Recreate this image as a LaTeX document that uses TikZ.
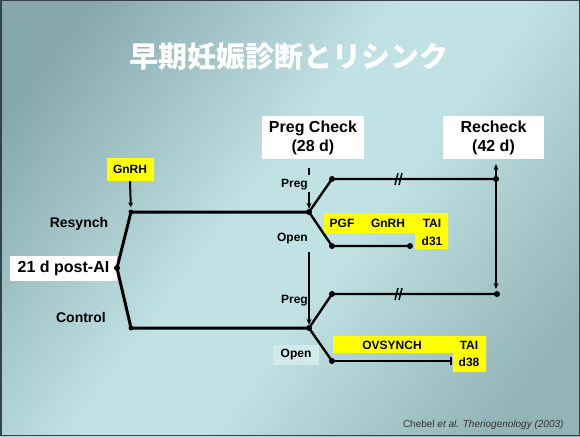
\documentclass[tikz,border=0pt]{standalone}
\usepackage{fontspec}
\setmainfont{Liberation Sans}
\newfontfamily\cjk{Noto Sans CJK JP}
\usetikzlibrary{arrows.meta,positioning,shadings}

\definecolor{bgdark}{HTML}{86A7AB}
\definecolor{bglight}{HTML}{C0E2E5}
\definecolor{bgdarktwo}{HTML}{93B4B7}
\definecolor{hiyellow}{HTML}{FFFF00}
\definecolor{openbg}{HTML}{D2E9EA}
\definecolor{framecol}{HTML}{33434A}

\pgfdeclarehorizontalshading{slidebg}{100bp}{color(0bp)=(bgdark); color(22bp)=(bgdark); color(46bp)=(bglight); color(56bp)=(bglight); color(78bp)=(bgdarktwo); color(100bp)=(bgdarktwo)}

\begin{document}
\begin{tikzpicture}[
		x=1pt, y=-1pt,
		wbox/.style={fill=white, align=center, inner sep=0pt, font=\fontsize{16}{19}\selectfont\bfseries},
		ybox/.style={fill=hiyellow, inner sep=0pt, minimum width=47pt, minimum height=23pt, font=\fontsize{12}{14}\selectfont\bfseries},
		lab/.style={font=\fontsize{14}{16}\selectfont\bfseries},
		smalllab/.style={font=\fontsize{12}{14}\selectfont\bfseries, inner sep=1pt},
		ytext/.style={font=\fontsize{12}{14}\selectfont\bfseries, inner sep=0pt},
		dot/.style={circle, fill=black, inner sep=0pt, minimum size=6pt},
		trunk/.style={line width=3pt},
		branch/.style={line width=2.4pt},
		thinline/.style={line width=1.8pt},
		vline/.style={line width=1.8pt, -{Stealth[length=6pt,width=5pt]}},
		brk/.pic={\draw[line width=1.5pt] (-3,6) -- (0,-6) (1,6) -- (4,-6);}
		]
		
		% Background
		\fill[shading=slidebg, shading angle=-37] (0,0) rectangle (580,436);
		\draw[framecol, line width=1.5pt] (0.75,0.75) rectangle (579.25,435.25);
		\useasboundingbox (0,0) rectangle (580,436);
		
		\node[font=\cjk\bfseries\fontsize{29}{32}\selectfont, text=white] (title) at (289,57) {早期妊娠診断とリシンク};
		
		% Nodes
		\node[wbox, minimum width=107pt, minimum height=25pt] (postai) at (63.5,268.5) {21 d post-AI};
		\node[dot] (root) at (117,268) {};
		\node[dot, minimum size=5pt] (rs) at (131,212) {};
		\node[dot, minimum size=5pt] (ct) at (131,328) {};
		\node[ybox] (gnrh) at (130,169.5) {GnRH};
		\node[lab] (resynchlab) at (79,224) {Resynch};
		\node[lab] (controllab) at (81,317) {Control};
		
		\node[wbox, minimum width=102pt, minimum height=43pt] (pcheck) at (313,137.5) {Preg Check\\(28 d)};
		\node[wbox, minimum width=101pt, minimum height=43pt] (recheck) at (493.5,137.5) {Recheck\\(42 d)};
		
		\node[dot] (rj) at (309,212) {};
		\node[dot] (cj) at (309,328) {};
		\node[dot] (pa) at (332,179) {};
		\node[dot] (pae) at (496,179) {};
		\node[dot] (oa) at (332,246) {};
		\node[dot] (oae) at (410,246) {};
		\node[dot] (pb) at (332,294) {};
		\node[dot] (pbe) at (497,294) {};
		\node[dot] (ob) at (332,361) {};
		\coordinate (obe) at (452,361);
		
		\node[smalllab, anchor=east] (prega) at (309,185) {Preg};
		\node[smalllab, anchor=east] (opena) at (309,239) {Open};
		\node[smalllab, anchor=east] (pregb) at (309,301) {Preg};
		\node[smalllab, fill=openbg, minimum width=46pt, minimum height=20pt] (openb) at (296,355) {Open};
		
		% Yellow treatment boxes
		\fill[hiyellow] (324,213) -- (448,213) -- (448,249) -- (415,249) -- (415,233) -- (324,233) -- cycle;
		\node[ytext] (pgf) at (342,223) {PGF};
		\node[ytext] (gnrhb) at (388,223) {GnRH};
		\node[ytext] (taia) at (432,223) {TAI};
		\node[ytext] (dthirtyone) at (432,241) {d31};
		
		\fill[hiyellow] (333,336) -- (486,336) -- (486,372) -- (453,372) -- (453,353) -- (333,353) -- cycle;
		\node[ytext] (ovsynch) at (392,345) {OVSYNCH};
		\node[ytext] (taib) at (469,345) {TAI};
		\node[ytext] (dthirtyeight) at (469,362) {d38};
		
		% Arrows
		\draw[trunk] (root.center) -- (rs.center) -- (rj.center);
		\draw[trunk] (root.center) -- (ct.center) -- (cj.center);
		\draw[line width=2pt, -{Stealth[length=5pt,width=5pt]}, shorten >=2pt] (gnrh.south) -- (rs);
		
		\coordinate (dtop) at (309,168);
		\coordinate (dmid) at (309,252);
		\draw[vline, dash pattern=on 7pt off 17pt on 40pt] (dtop) -- (rj);
		\draw[vline] (dmid) -- (cj);
		
		\draw[branch] (rj.center) -- (pa.center) -- (pae.center);
		\draw[branch] (rj.center) -- (oa.center) -- (oae.center);
		\draw[branch] (cj.center) -- (pb.center) -- (pbe.center);
		\draw[branch] (cj.center) -- (ob.center);
		\draw[thinline, -{Bar[width=8pt]}] (ob.center) -- (obe);
		\pic at (398,179) {brk};
		\pic at (398,294) {brk};
		
		\coordinate (rtop) at (496,164);
		\coordinate (rbot) at (496,289);
		\draw[line width=1.8pt, {Stealth[length=6pt,width=5pt]}-{Stealth[length=6pt,width=5pt]}] (rtop) -- (rbot);
		
		\node[font=\fontsize{10}{12}\selectfont, text=black!80, anchor=east] (source) at (567,425) {Chebel \textit{et al. Theriogenology (2003)}};
		
	\end{tikzpicture}
\end{document}
